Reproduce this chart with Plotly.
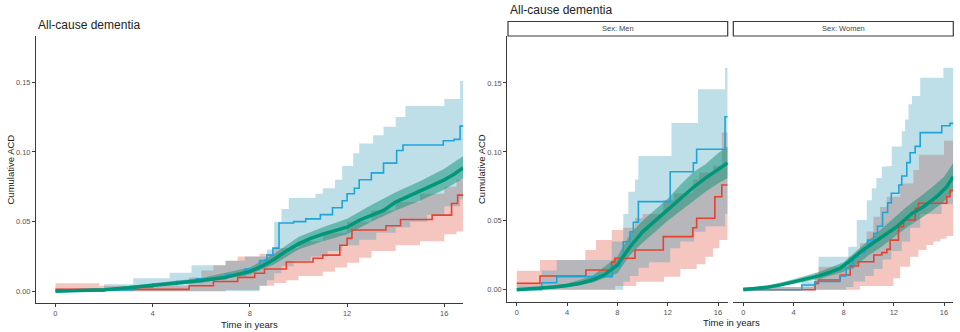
import plotly.graph_objects as go

# ---------------- data ----------------
# Left panel: all participants
L_green_t = [0, 1, 2, 3, 4, 5, 6, 7, 8, 8.5, 9, 9.5, 10, 10.5, 11, 11.5, 12, 12.5, 13, 13.5, 14, 14.5, 15, 15.5, 16, 16.4, 16.77]
L_green_v = [0, 0.0005, 0.0012, 0.0025, 0.0045, 0.006, 0.0078, 0.010, 0.0143, 0.018, 0.023, 0.029, 0.034, 0.038, 0.041, 0.0435, 0.046, 0.051, 0.0545, 0.058, 0.064, 0.068, 0.072, 0.076, 0.080, 0.084, 0.0885]
L_green_bt = [0, 2, 4, 6, 8, 9, 10, 11, 12, 13, 14, 15, 16, 16.77]
L_green_lo = [0, 0.0008, 0.0035, 0.0062, 0.012, 0.0195, 0.030, 0.036, 0.041, 0.050, 0.058, 0.065, 0.073, 0.081]
L_green_hi = [0.0005, 0.0018, 0.0058, 0.0095, 0.017, 0.027, 0.039, 0.046, 0.052, 0.062, 0.071, 0.079, 0.088, 0.097]

L_blue_t = [0, 2.0, 3.2, 4.0, 5.0, 5.8, 7.0, 7.8, 8.4, 8.7, 8.95, 9.2, 9.8, 10.3, 10.9, 11.4, 11.8, 12.0, 12.3, 12.5, 13.0, 13.5, 14.04, 14.3, 15.96, 16.4, 16.65, 16.77]
L_blue_v = [0, 0.001, 0.003, 0.005, 0.007, 0.009, 0.012, 0.016, 0.022, 0.026, 0.031, 0.049, 0.050, 0.052, 0.055, 0.060, 0.065, 0.070, 0.074, 0.080, 0.085, 0.092, 0.101, 0.105, 0.108, 0.109, 0.1185, 0.1185]
L_blue_hi_t = [0, 2.0, 3.2, 4.7, 5.6, 7.0, 7.8, 8.7, 9.0, 9.3, 9.6, 10.7, 11.0, 11.5, 11.8, 12.25, 12.5, 13.07, 13.5, 14.0, 14.4, 16.0, 16.65, 16.77]
L_blue_hi_v = [0.002, 0.005, 0.0093, 0.0134, 0.0187, 0.022, 0.025, 0.030, 0.050, 0.059, 0.067, 0.070, 0.074, 0.080, 0.090, 0.099, 0.106, 0.112, 0.118, 0.125, 0.133, 0.138, 0.151, 0.151]
L_blue_lo_t = [0, 8.4, 8.7, 9.0, 9.3, 9.8, 10.5, 11.2, 11.8, 12.5, 13.2, 14.0, 14.6, 15.3, 16.0, 16.65, 16.77]
L_blue_lo_v = [0, 0.004, 0.008, 0.013, 0.018, 0.022, 0.025, 0.029, 0.033, 0.037, 0.042, 0.046, 0.050, 0.055, 0.061, 0.066, 0.066]

L_red_t = [0, 5.5, 6.5, 7.5, 8.2, 8.6, 9.5, 10.6, 11.0, 11.7, 12.0, 12.2, 13.6, 14.2, 15.5, 16.3, 16.55, 16.77]
L_red_v = [0.0014, 0.004, 0.007, 0.010, 0.013, 0.016, 0.021, 0.0237, 0.026, 0.033, 0.038, 0.044, 0.047, 0.0515, 0.0547, 0.063, 0.069, 0.069]
L_red_hi_t = [0, 1.8, 5.5, 6.0, 6.5, 7.0, 7.5, 8.4, 9.0, 10.0, 11.0, 12.0, 13.0, 14.0, 15.0, 16.0, 16.5, 16.77]
L_red_hi_v = [0.0057, 0.004, 0.010, 0.015, 0.0187, 0.022, 0.025, 0.027, 0.031, 0.036, 0.042, 0.050, 0.058, 0.064, 0.070, 0.075, 0.080, 0.080]
L_red_lo_t = [0, 7.0, 8.4, 9.0, 9.5, 10.0, 11.0, 11.5, 12.0, 12.5, 13.0, 14.0, 15.0, 16.0, 16.5, 16.77]
L_red_lo_v = [0, 0.001, 0.004, 0.006, 0.008, 0.011, 0.014, 0.017, 0.0205, 0.024, 0.029, 0.033, 0.036, 0.041, 0.043, 0.043]

# Men
M_green_t = [0, 1, 2, 3, 4, 5, 6, 7, 8, 9, 10, 11, 12, 13, 14, 15, 16, 16.77]
M_green_v = [0, 0.0005, 0.001, 0.002, 0.003, 0.0045, 0.007, 0.011, 0.018, 0.031, 0.042, 0.050, 0.058, 0.066, 0.074, 0.081, 0.087, 0.092]
M_green_bt = [0, 2, 4, 6, 8, 9, 10, 11, 12, 13, 14, 15, 16, 16.77]
M_green_lo = [0, 0.0005, 0.0018, 0.005, 0.012, 0.025, 0.034, 0.042, 0.050, 0.057, 0.064, 0.071, 0.077, 0.081]
M_green_hi = [0.0005, 0.002, 0.0045, 0.010, 0.024, 0.040, 0.050, 0.058, 0.066, 0.076, 0.085, 0.091, 0.099, 0.104]

M_blue_t = [0, 1.98, 3.18, 7.6, 8.2, 8.47, 9.0, 9.27, 9.67, 12.2, 14.04, 14.3, 16.56, 16.77]
M_blue_v = [0, 0.005, 0.0095, 0.017, 0.022, 0.0348, 0.042, 0.049, 0.0639, 0.0856, 0.092, 0.1019, 0.1255, 0.1255]
M_blue_hi_t = [0, 1.98, 3.18, 7.55, 8.47, 8.87, 9.4, 9.67, 12.3, 14.4, 16.56, 16.77]
M_blue_hi_v = [0.003, 0.014, 0.0216, 0.035, 0.055, 0.071, 0.080, 0.097, 0.121, 0.1454, 0.161, 0.161]
M_blue_lo_t = [0, 8.47, 9.0, 9.67, 10.5, 12.2, 13.0, 14.1, 15.0, 16.56, 16.77]
M_blue_lo_v = [0, 0.006, 0.010, 0.016, 0.020, 0.030, 0.035, 0.042, 0.046, 0.055, 0.055]

M_red_t = [0, 1.85, 5.5, 7.55, 7.8, 9.4, 11.65, 14.0, 14.3, 15.75, 16.3, 16.77]
M_red_v = [0.0046, 0.0099, 0.0143, 0.020, 0.0228, 0.0288, 0.0385, 0.045, 0.0518, 0.0675, 0.076, 0.076]
M_red_hi_t = [0, 1.85, 5.45, 6.3, 7.55, 8.45, 9.4, 10.0, 11.65, 12.5, 14.0, 14.5, 15.6, 16.3, 16.77]
M_red_hi_v = [0.0138, 0.0216, 0.0288, 0.036, 0.0433, 0.045, 0.052, 0.055, 0.065, 0.070, 0.080, 0.085, 0.090, 0.114, 0.114]
M_red_lo_t = [0, 7.83, 9.5, 11.7, 13.0, 14.3, 15.0, 15.6, 16.1, 16.77]
M_red_lo_v = [0, 0.0027, 0.0058, 0.0094, 0.015, 0.0185, 0.024, 0.030, 0.036, 0.036]

# Women
W_green_t = [0, 1, 2, 3, 4, 5, 6, 7, 7.7, 8.5, 9.36, 10.2, 11.04, 12.24, 13.44, 14.36, 15.42, 16.22, 16.74]
W_green_v = [0, 0.0008, 0.002, 0.0035, 0.0058, 0.0078, 0.010, 0.013, 0.0155, 0.021, 0.0276, 0.033, 0.0385, 0.0457, 0.0554, 0.0602, 0.0675, 0.0747, 0.082]
W_green_bt = [0, 2, 4, 6, 8, 9, 10, 11, 12, 13, 14, 15, 16, 16.74]
W_green_lo = [0, 0.0012, 0.0042, 0.0075, 0.013, 0.018, 0.025, 0.031, 0.038, 0.045, 0.051, 0.057, 0.064, 0.072]
W_green_hi = [0.001, 0.003, 0.0075, 0.0128, 0.020, 0.028, 0.036, 0.044, 0.052, 0.060, 0.067, 0.074, 0.082, 0.092]

W_blue_t = [0, 4.66, 5.7, 7.7, 8.2, 8.77, 9.2, 9.7, 9.9, 10.4, 10.7, 11.1, 11.5, 11.8, 12.4, 12.63, 13.03, 13.3, 13.7, 14.1, 15.82, 16.48, 16.74]
W_blue_v = [0, 0.0034, 0.006, 0.010, 0.016, 0.024, 0.027, 0.030, 0.036, 0.041, 0.046, 0.056, 0.063, 0.070, 0.076, 0.0825, 0.0922, 0.0994, 0.104, 0.114, 0.119, 0.1207, 0.1207]
W_blue_hi_t = [0, 4.66, 6.0, 8.37, 9.04, 9.84, 10.24, 10.6, 11.04, 11.44, 11.83, 12.63, 12.9, 13.17, 13.44, 14.1, 15.95, 16.74]
W_blue_hi_v = [0.002, 0.006, 0.024, 0.0312, 0.0506, 0.065, 0.0736, 0.081, 0.0893, 0.0898, 0.104, 0.115, 0.1236, 0.1345, 0.1405, 0.1538, 0.161, 0.161]
W_blue_lo_t = [0, 8.2, 8.77, 9.7, 10.4, 11.1, 11.8, 12.63, 13.3, 14.1, 15.82, 16.74]
W_blue_lo_v = [0, 0.002, 0.006, 0.010, 0.015, 0.022, 0.028, 0.035, 0.045, 0.055, 0.062, 0.062]

W_red_t = [0, 5.72, 5.98, 7.72, 8.52, 9.18, 10.4, 11.04, 11.44, 11.7, 12.37, 12.77, 13.7, 13.96, 16.22, 16.48, 16.74]
W_red_v = [0, 0.0046, 0.007, 0.0107, 0.0172, 0.0203, 0.0252, 0.0269, 0.0293, 0.036, 0.0457, 0.0506, 0.059, 0.0627, 0.0675, 0.072, 0.072]
W_red_hi_t = [0, 5.72, 6.0, 8.37, 9.3, 9.84, 10.37, 10.9, 11.44, 12.5, 13.56, 14.0, 16.0, 16.74]
W_red_hi_v = [0.002, 0.012, 0.0167, 0.024, 0.0337, 0.0423, 0.053, 0.060, 0.0675, 0.077, 0.0869, 0.098, 0.108, 0.108]
W_red_lo_t = [0, 9.3, 11.96, 12.5, 13.3, 13.96, 14.6, 15.15, 15.7, 16.2, 16.74]
W_red_lo_v = [0, 0.0027, 0.0083, 0.0167, 0.024, 0.0288, 0.0324, 0.035, 0.037, 0.039, 0.039]

x_ticks = [0, 4, 8, 12, 16]
y_ticks = [0, 0.05, 0.10, 0.15]
y_ticktext = ["0.00", "0.05", "0.10", "0.15"]
strip_labels = ["Sex: Men", "Sex: Women"]

# ---------------- styling ----------------
RED = "#E8412F"
BLUE = "#1DA5DA"
GREEN = "#00967A"
RED_FILL = "rgba(230,110,95,0.40)"
BLUE_FILL = "rgba(40,150,176,0.30)"
GREEN_FILL = "rgba(0,140,110,0.46)"
W, H = 960, 332


def step_path(t, v):
    xs, ys = [], []
    for i in range(len(t)):
        if i > 0:
            xs.append(t[i]); ys.append(v[i - 1])
        xs.append(t[i]); ys.append(v[i])
    return xs, ys


def band_step(ht, hv, lt, lv):
    hx, hy = step_path(ht, hv)
    lx, ly = step_path(lt, lv)
    return hx + lx[::-1], hy + ly[::-1]


fig = go.Figure()

panels = [
    ("x", "y", dict(g=(L_green_t, L_green_v, L_green_bt, L_green_lo, L_green_hi),
                    b=(L_blue_t, L_blue_v, L_blue_hi_t, L_blue_hi_v, L_blue_lo_t, L_blue_lo_v),
                    r=(L_red_t, L_red_v, L_red_hi_t, L_red_hi_v, L_red_lo_t, L_red_lo_v))),
    ("x2", "y2", dict(g=(M_green_t, M_green_v, M_green_bt, M_green_lo, M_green_hi),
                      b=(M_blue_t, M_blue_v, M_blue_hi_t, M_blue_hi_v, M_blue_lo_t, M_blue_lo_v),
                      r=(M_red_t, M_red_v, M_red_hi_t, M_red_hi_v, M_red_lo_t, M_red_lo_v))),
    ("x3", "y3", dict(g=(W_green_t, W_green_v, W_green_bt, W_green_lo, W_green_hi),
                      b=(W_blue_t, W_blue_v, W_blue_hi_t, W_blue_hi_v, W_blue_lo_t, W_blue_lo_v),
                      r=(W_red_t, W_red_v, W_red_hi_t, W_red_hi_v, W_red_lo_t, W_red_lo_v))),
]

for xa, ya, d in panels:
    rt, rv, rht, rhv, rlt, rlv = d["r"]
    bt, bv, bht, bhv, blt, blv = d["b"]
    gt, gv, gbt, glo, ghi = d["g"]
    px, py = band_step(rht, rhv, rlt, rlv)
    fig.add_trace(go.Scatter(x=px, y=py, fill="toself", fillcolor=RED_FILL, line=dict(width=0),
                             mode="lines", hoverinfo="skip", xaxis=xa, yaxis=ya))
    px, py = band_step(bht, bhv, blt, blv)
    fig.add_trace(go.Scatter(x=px, y=py, fill="toself", fillcolor=BLUE_FILL, line=dict(width=0),
                             mode="lines", hoverinfo="skip", xaxis=xa, yaxis=ya))
    fig.add_trace(go.Scatter(x=list(gbt) + list(gbt)[::-1], y=list(ghi) + list(glo)[::-1],
                             fill="toself", fillcolor=GREEN_FILL, line=dict(width=0),
                             mode="lines", hoverinfo="skip", xaxis=xa, yaxis=ya))
    fig.add_trace(go.Scatter(x=rt, y=rv, mode="lines", line=dict(color=RED, width=1.6, shape="hv"),
                             xaxis=xa, yaxis=ya))
    fig.add_trace(go.Scatter(x=bt, y=bv, mode="lines", line=dict(color=BLUE, width=1.6, shape="hv"),
                             xaxis=xa, yaxis=ya))
    fig.add_trace(go.Scatter(x=gt, y=gv, mode="lines", line=dict(color=GREEN, width=3.5),
                             xaxis=xa, yaxis=ya))

axis_common = dict(showline=True, linecolor="#3a3a3a", linewidth=1, ticks="outside", ticklen=3,
                   tickcolor="#3a3a3a", tickwidth=1, showgrid=False, zeroline=False,
                   tickfont=dict(family="Liberation Sans", size=7.5, color="#555555"))


def px2x(p):
    return p / W


def px2y(p):
    return 1 - p / H


fig.update_layout(
    width=W, height=H, margin=dict(l=0, r=0, t=0, b=0),
    plot_bgcolor="white", paper_bgcolor="white", showlegend=False,
    xaxis=dict(domain=[px2x(36), px2x(463)], range=[-0.8, 16.77], anchor="y", tickvals=x_ticks, **axis_common),
    yaxis=dict(domain=[px2y(303.3), px2y(36)], range=[-0.0086, 0.1832], anchor="x",
               tickvals=y_ticks, ticktext=y_ticktext, **axis_common),
    xaxis2=dict(domain=[px2x(507.3), px2x(727.7)], range=[-0.75, 16.77], anchor="y2", tickvals=x_ticks, **axis_common),
    yaxis2=dict(domain=[px2y(301.7), px2y(36)], range=[-0.0087, 0.1841], anchor="x2",
                tickvals=y_ticks, ticktext=y_ticktext, **axis_common),
    xaxis3=dict(domain=[px2x(733.3), px2x(953.3)], range=[-0.8, 16.74], anchor="y3", tickvals=x_ticks, **axis_common),
    yaxis3=dict(domain=[px2y(301.7), px2y(36)], range=[-0.0087, 0.1841], anchor="x3",
                visible=False, showgrid=False, zeroline=False),
)

# strips
for (x0, x1), lab in zip([(508, 727.7), (733.3, 953.3)], strip_labels):
    fig.add_shape(type="rect", xref="paper", yref="paper", x0=px2x(x0), x1=px2x(x1), y0=px2y(36), y1=px2y(21.5),
                  line=dict(color="#3a3a3a", width=1.2), fillcolor="white")
    fig.add_annotation(x=px2x((x0 + x1) / 2), y=px2y(28.7), xref="paper", yref="paper", text=lab,
                       showarrow=False, font=dict(family="Liberation Sans", size=7.5, color="#444444"),
                       xanchor="center", yanchor="middle")

txt = dict(family="Liberation Sans", color="#222222")
fig.add_annotation(x=px2x(36), y=px2y(24.5), xref="paper", yref="paper", text="All-cause dementia",
                   showarrow=False, xanchor="left", yanchor="middle", font=dict(size=12, **txt))
fig.add_annotation(x=px2x(507.5), y=px2y(9.5), xref="paper", yref="paper", text="All-cause dementia",
                   showarrow=False, xanchor="left", yanchor="middle", font=dict(size=12, **txt))
fig.add_annotation(x=px2x(249), y=px2y(324), xref="paper", yref="paper", text="Time in years",
                   showarrow=False, xanchor="center", yanchor="middle", font=dict(size=9.5, **txt))
fig.add_annotation(x=px2x(731), y=px2y(322.5), xref="paper", yref="paper", text="Time in years",
                   showarrow=False, xanchor="center", yanchor="middle", font=dict(size=9.5, **txt))
fig.add_annotation(x=px2x(9.5), y=px2y(170), xref="paper", yref="paper", text="Cumulative ACD",
                   showarrow=False, textangle=-90, xanchor="center", yanchor="middle", font=dict(size=9.5, **txt))
fig.add_annotation(x=px2x(481), y=px2y(169), xref="paper", yref="paper", text="Cumulative ACD",
                   showarrow=False, textangle=-90, xanchor="center", yanchor="middle", font=dict(size=9.5, **txt))

fig.write_html("out.html")
